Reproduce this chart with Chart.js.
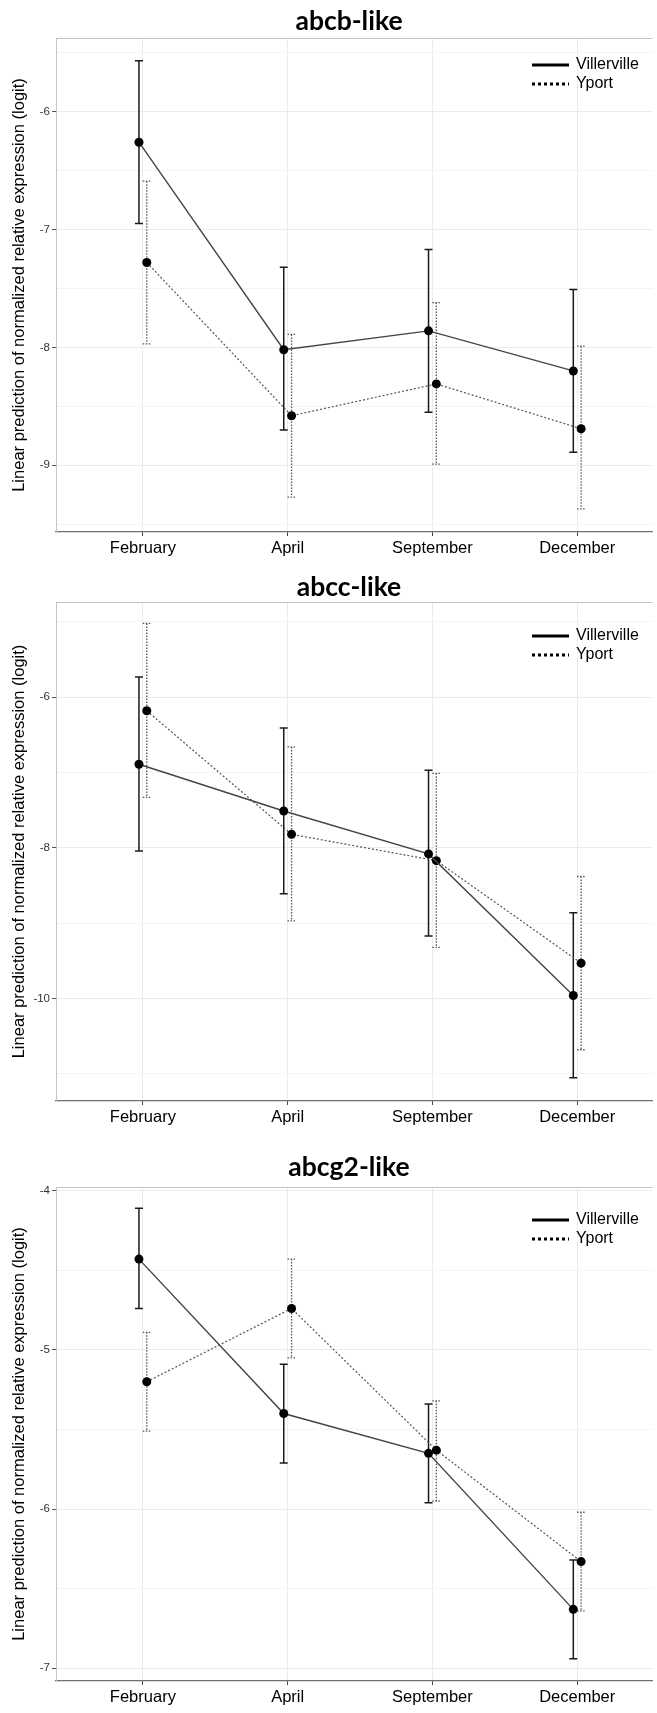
<!DOCTYPE html>
<html>
<head>
<meta charset="utf-8">
<script src="https://cdn.jsdelivr.net/npm/chart.js@4"></script>
<style>
  body { margin: 0; background: #fff; }
  .panel { position: absolute; left: 0; }
</style>
</head>
<body>
<div class="panel" style="top:0px"><canvas id="abcbChart" width="657" height="560"></canvas></div>
<div class="panel" style="top:560px"><canvas id="abccChart" width="657" height="572"></canvas></div>
<div class="panel" style="top:1140px"><canvas id="abcg2Chart" width="657" height="573"></canvas></div>
<script>
const months = ["February", "April", "September", "December"];
const sites = ["Villerville", "Yport"];

// abcb-like
const abcbVill = [-6.26, -8.02, -7.86, -8.20];
const abcbVillLo = [-6.95, -8.70, -8.55, -8.89];
const abcbVillHi = [-5.57, -7.32, -7.17, -7.51];
const abcbYport = [-7.28, -8.58, -8.31, -8.69];
const abcbYportLo = [-7.97, -9.27, -8.99, -9.37];
const abcbYportHi = [-6.59, -7.89, -7.62, -7.99];
const abcbTicks = [-9, -8, -7, -6];
const abcbMinor = [-9.5, -8.5, -7.5, -6.5, -5.5];

// abcc-like
const abccVill = [-6.89, -7.51, -8.08, -9.96];
const abccVillLo = [-8.04, -8.61, -9.17, -11.05];
const abccVillHi = [-5.73, -6.41, -6.97, -8.86];
const abccYport = [-6.18, -7.82, -8.17, -9.53];
const abccYportLo = [-7.33, -8.97, -9.32, -10.68];
const abccYportHi = [-5.02, -6.66, -7.01, -8.38];
const abccTicks = [-10, -8, -6];
const abccMinor = [-11, -9, -7, -5];

// abcg2-like
const abcg2Vill = [-4.43, -5.40, -5.65, -6.63];
const abcg2VillLo = [-4.74, -5.71, -5.96, -6.94];
const abcg2VillHi = [-4.11, -5.09, -5.34, -6.32];
const abcg2Yport = [-5.20, -4.74, -5.63, -6.33];
const abcg2YportLo = [-5.51, -5.05, -5.95, -6.64];
const abcg2YportHi = [-4.89, -4.43, -5.32, -6.02];
const abcg2Ticks = [-7, -6, -5, -4];
const abcg2Minor = [-6.5, -5.5, -4.5];

Chart.defaults.font.family = "'Liberation Sans', Arial, sans-serif";
Chart.defaults.color = "#000";

const dodge = 0.027;

// error bars, title, legend and top border
const panelDeco = {
    id: "panelDeco",
    beforeDatasetsDraw(chart) {
        const ctx = chart.ctx;
        const y = chart.scales.y;
        chart.data.datasets.forEach((ds, i) => {
            const meta = chart.getDatasetMeta(i);
            ctx.save();
            ctx.strokeStyle = ds.errColor;
            ctx.lineWidth = ds.errWidth;
            ctx.setLineDash(ds.errDash);
            meta.data.forEach((pt, j) => {
                const top = y.getPixelForValue(ds.hi[j]);
                const bot = y.getPixelForValue(ds.lo[j]);
                ctx.beginPath();
                ctx.moveTo(pt.x, top);
                ctx.lineTo(pt.x, bot);
                ctx.moveTo(pt.x - 4, top);
                ctx.lineTo(pt.x + 4, top);
                ctx.moveTo(pt.x - 4, bot);
                ctx.lineTo(pt.x + 4, bot);
                ctx.stroke();
            });
            ctx.restore();
        });
    },
    afterDraw(chart, args, opts) {
        const ctx = chart.ctx;
        const area = chart.chartArea;
        ctx.save();
        // top border
        ctx.strokeStyle = "#c4c4c4";
        ctx.lineWidth = 1;
        ctx.beginPath();
        ctx.moveTo(area.left, area.top + 0.5);
        ctx.lineTo(area.right, area.top + 0.5);
        ctx.stroke();
        // title
        ctx.fillStyle = "#000";
        ctx.font = "bold 26.5px Lato, 'Open Sans', sans-serif";
        ctx.textAlign = "center";
        ctx.textBaseline = "alphabetic";
        ctx.fillText(opts.title, 349, opts.titleY);
        // legend
        ctx.font = "16px 'Liberation Sans', Arial, sans-serif";
        ctx.textAlign = "left";
        ctx.textBaseline = "middle";
        chart.data.datasets.forEach((ds, i) => {
            const ly = opts.legendY + i * 19;
            ctx.strokeStyle = "#000";
            ctx.lineWidth = 3;
            ctx.setLineDash(i === 0 ? [] : [3, 3]);
            ctx.beginPath();
            ctx.moveTo(532, ly);
            ctx.lineTo(569, ly);
            ctx.stroke();
            ctx.fillText(ds.label, 576, ly);
        });
        ctx.restore();
    }
};

function makePanel(id, title, vill, villLo, villHi, yport, yportLo, yportHi, majors, minors, yMin, yMax, box) {
    const all = majors.concat(minors).sort((a, b) => a - b);
    new Chart(document.getElementById(id).getContext("2d"), {
        type: "line",
        data: {
            datasets: [{
                label: sites[0],
                data: months.map((m, i) => ({ x: i + 1 - dodge, y: vill[i] })),
                lo: villLo, hi: villHi,
                borderColor: "#444",
                borderWidth: 1.4,
                pointRadius: 4.5,
                pointBackgroundColor: "#000",
                pointBorderWidth: 0,
                errColor: "#1a1a1a", errWidth: 1.5, errDash: []
            }, {
                label: sites[1],
                data: months.map((m, i) => ({ x: i + 1 + dodge, y: yport[i] })),
                lo: yportLo, hi: yportHi,
                borderColor: "#555",
                borderWidth: 1.2,
                borderDash: [2, 2],
                pointRadius: 4.5,
                pointBackgroundColor: "#000",
                pointBorderWidth: 0,
                errColor: "#555", errWidth: 1.3, errDash: [1.5, 1.5]
            }]
        },
        options: {
            responsive: false,
            animation: false,
            layout: { padding: { top: box.top, left: 0, right: 0, bottom: 0 } },
            plugins: {
                legend: { display: false },
                tooltip: { enabled: false },
                panelDeco: { title: title, titleY: box.titleY, legendY: box.legendY }
            },
            scales: {
                x: {
                    type: "linear",
                    min: 0.4,
                    max: 4.52,
                    afterBuildTicks: s => { s.ticks = months.map((m, i) => ({ value: i + 1 })); },
                    afterFit: s => { s.height = box.h - box.bottom; },
                    ticks: {
                        autoSkip: false,
                        maxRotation: 0,
                        padding: 3,
                        font: { size: 16.5 },
                        color: "#000",
                        callback: v => months[v - 1]
                    },
                    grid: { color: "#ebebeb", tickColor: "#444", tickLength: 4 },
                    border: { color: "#707070", width: 1.2 }
                },
                y: {
                    min: yMin,
                    max: yMax,
                    afterBuildTicks: s => { s.ticks = all.map(v => ({ value: v })); },
                    afterFit: s => { s.width = 56; },
                    ticks: {
                        autoSkip: false,
                        padding: 2,
                        font: { size: 11.5 },
                        color: "#333",
                        callback: v => majors.includes(v) ? String(v) : ""
                    },
                    grid: {
                        color: c => majors.includes(c.tick.value) ? "#ebebeb" : "#f4f4f4",
                        tickColor: c => majors.includes(c.tick.value) ? "#555" : "rgba(0,0,0,0)",
                        tickLength: 4
                    },
                    border: { color: "#c4c4c4", width: 1 },
                    title: {
                        display: true,
                        text: "Linear prediction of normalized relative expression (logit)",
                        font: { size: 16.5 },
                        color: "#000",
                        padding: { top: 10, bottom: 0 }
                    }
                }
            }
        },
        plugins: [panelDeco]
    });
}

document.addEventListener("DOMContentLoaded", function() {
    makePanel("abcbChart", "abcb-like", abcbVill, abcbVillLo, abcbVillHi, abcbYport, abcbYportLo, abcbYportHi,
        abcbTicks, abcbMinor, -9.566, -5.376, { top: 38, bottom: 532, h: 560, titleY: 30, legendY: 65 });
    makePanel("abccChart", "abcc-like", abccVill, abccVillLo, abccVillHi, abccYport, abccYportLo, abccYportHi,
        abccTicks, abccMinor, -11.36, -4.736, { top: 42, bottom: 541, h: 572, titleY: 36, legendY: 76 });
    makePanel("abcg2Chart", "abcg2-like", abcg2Vill, abcg2VillLo, abcg2VillHi, abcg2Yport, abcg2YportLo, abcg2YportHi,
        abcg2Ticks, abcg2Minor, -7.08, -3.977, { top: 47, bottom: 541, h: 573, titleY: 36, legendY: 80 });
});
</script>
</body>
</html>
